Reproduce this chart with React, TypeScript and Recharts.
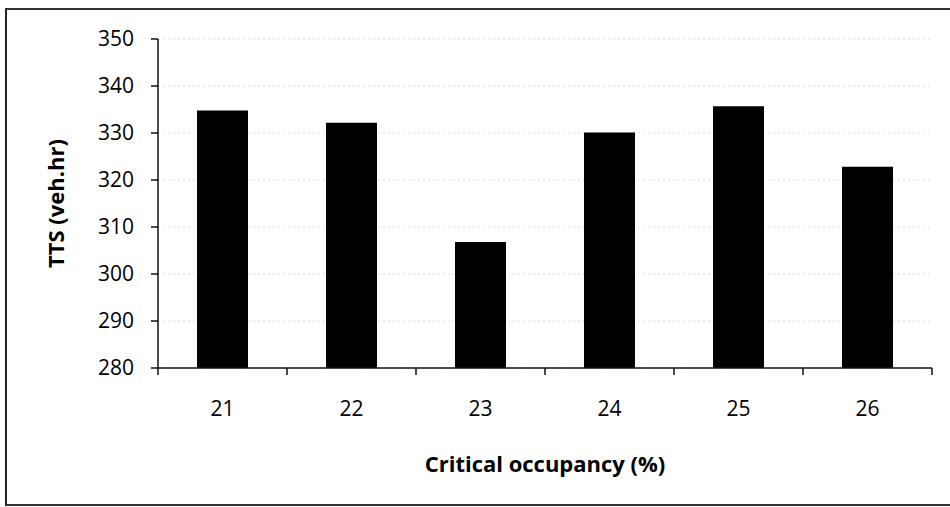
import { BarChart, Bar, XAxis, YAxis, CartesianGrid } from "recharts";

const occupancy = ["21", "22", "23", "24", "25", "26"];
const tts = [334.8, 332.2, 306.8, 330.1, 335.7, 322.8];
const yTicks = [280, 290, 300, 310, 320, 330, 340, 350];

const data = occupancy.map((label, i) => ({ label, tts: tts[i] }));

const font = "'Open Sans', sans-serif";

// Excel style: tick marks sit between the categories, not under them
function CategoryTick(props: any) {
  const { x, y, payload, index } = props;
  const half = payload.offset ?? 0;
  const last = index === occupancy.length - 1;
  return (
    <g>
      <line x1={x - half} x2={x - half} y1={y} y2={y + 7} stroke="#111" strokeWidth={1.5} />
      {last && <line x1={x + half} x2={x + half} y1={y} y2={y + 7} stroke="#111" strokeWidth={1.5} />}
      <text x={x} y={y + 48} textAnchor="middle" fill="#000" fontSize={21} fontFamily={font}>
        {payload.value}
      </text>
    </g>
  );
}

export default function App() {
  return (
    <div
      style={{
        position: "absolute",
        left: 0,
        top: 0,
        width: 950,
        height: 507,
        overflow: "hidden",
        background: "#fff",
        fontFamily: font,
      }}
    >
      <div
        style={{
          position: "absolute",
          left: 5,
          top: 8,
          width: 943,
          height: 494,
          borderLeft: "2px solid #222",
          borderTop: "2px solid #333",
          borderBottom: "2px solid #333",
        }}
      />
      <BarChart
        width={950}
        height={507}
        data={data}
        margin={{ top: 39, right: 18, left: 0, bottom: 29 }}
        style={{ position: "absolute", left: 0, top: 0 }}
      >
        <CartesianGrid vertical={false} stroke="#dcdcdc" strokeDasharray="2 3" />
        <XAxis
          dataKey="label"
          height={110}
          interval={0}
          tickSize={0}
          tickMargin={0}
          tickLine={false}
          tick={<CategoryTick />}
          axisLine={{ stroke: "#111", strokeWidth: 1.5 }}
          label={{
            value: "Critical occupancy (%)",
            position: "insideBottom",
            offset: 6,
            fill: "#000",
            fontSize: 22,
            fontWeight: 700,
            fontFamily: font,
          }}
        />
        <YAxis
          domain={[280, 350]}
          ticks={yTicks}
          width={158}
          tickSize={7}
          tickMargin={17}
          tick={{ fill: "#000", fontSize: 21, fontFamily: font }}
          axisLine={{ stroke: "#111", strokeWidth: 1.5 }}
          tickLine={{ stroke: "#111", strokeWidth: 1.5 }}
          label={{
            value: "TTS (veh.hr)",
            angle: -90,
            position: "center",
            dx: -23,
            fill: "#000",
            fontSize: 22,
            fontWeight: 700,
            fontFamily: font,
          }}
        />
        <Bar dataKey="tts" fill="#000" barSize={51} isAnimationActive={false} />
      </BarChart>
    </div>
  );
}
